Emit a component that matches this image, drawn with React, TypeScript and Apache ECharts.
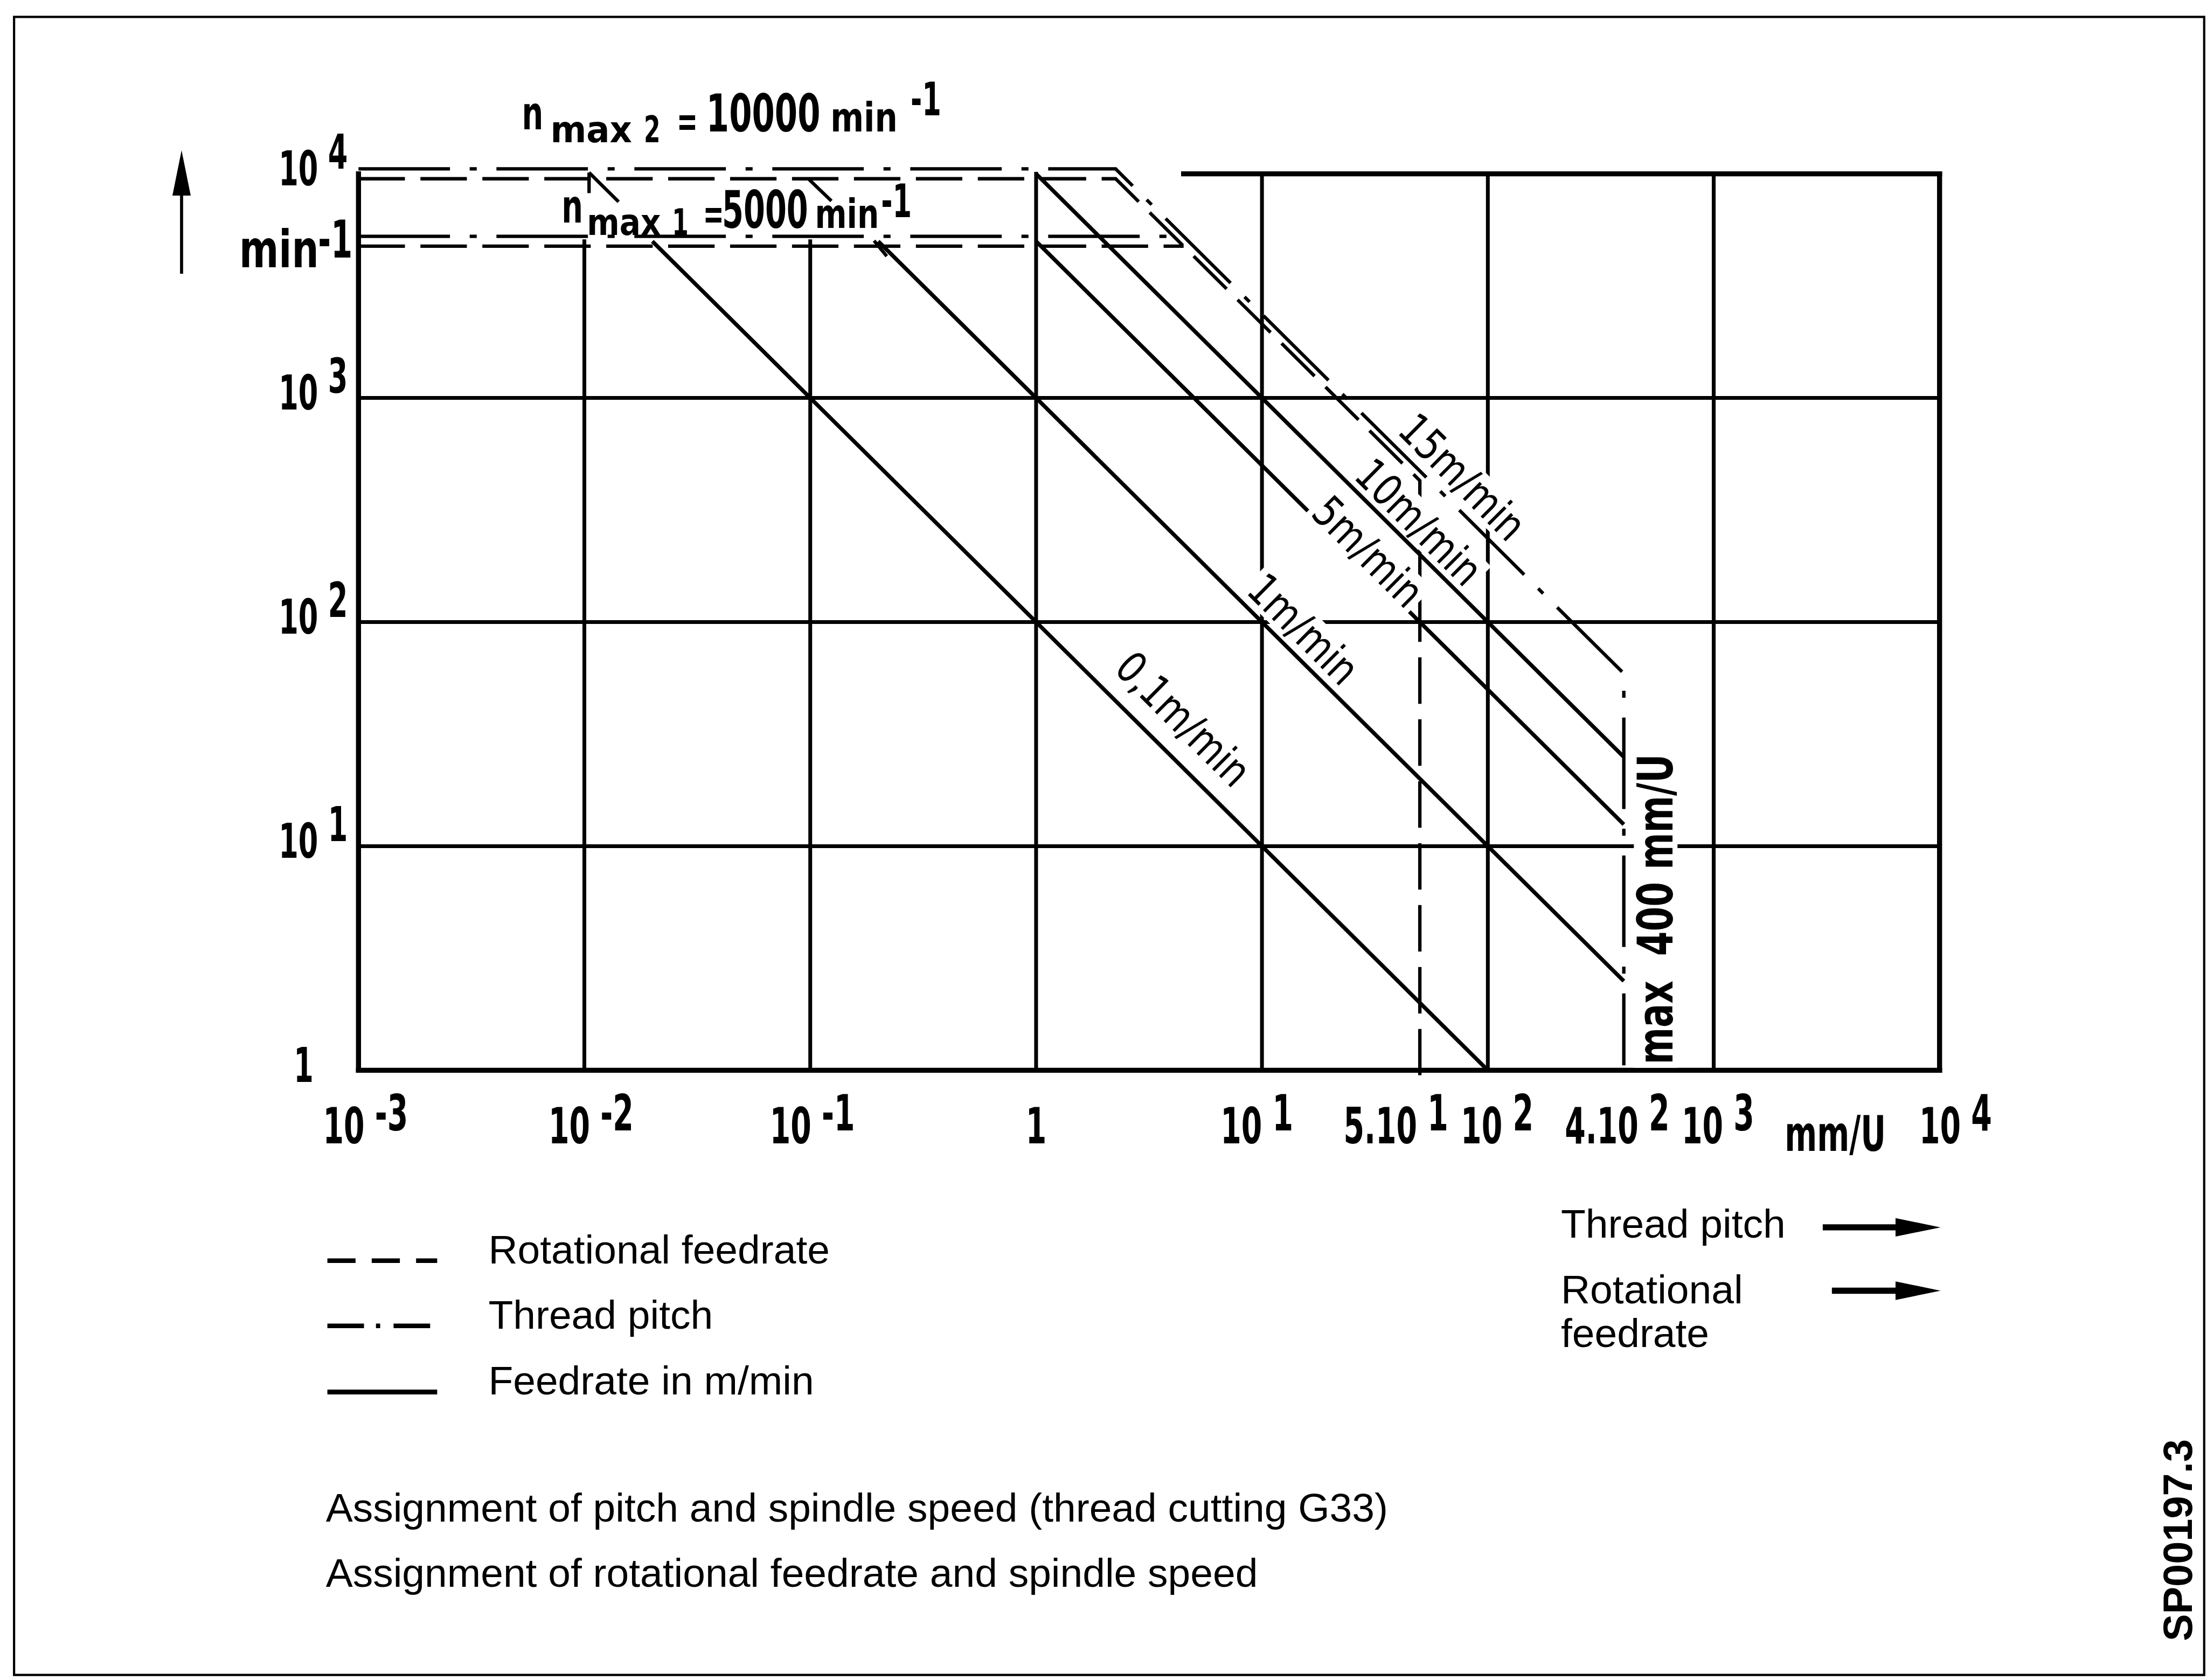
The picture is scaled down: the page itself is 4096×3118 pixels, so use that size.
import React, { useEffect, useRef } from "react";
import * as echarts from "echarts";

const PAGE_W = 4096;
const PAGE_H = 3118;
// The sheet is laid out in units of a 1568-unit-wide page; U converts to px.
const U = PAGE_W / 1568;
const u = (v: number) => v * U;

// Technical lettering: condensed bold face, narrowed further by a horizontal scale
const TECH = "'DejaVu Sans Condensed', 'DejaVu Sans', sans-serif";
const TECH_WEIGHT = "bold";
const TECH_SX = 0.66;
const SANS = "'Liberation Sans', Arial, Helvetica, sans-serif";
const INK = "#000";

// ---------------- data ----------------
// Pitch / rotational feed axis (mm/U)
const pitchTicks = [0.001, 0.01, 0.1, 1, 10, 50, 100, 400, 1000, 10000];
const pitchTickBase = ["10 ", "10 ", "10 ", "1", "10 ", "5.10 ", "10 ", "4.10 ", "10 ", "10 "];
const pitchTickExp = ["-3", "-2", "-1", "", "1", "1", "2", "2", "3", "4"];

// Spindle speed axis (min^-1)
const speedTicks = [1, 10, 100, 1000, 10000];
const speedTickBase = ["1", "10 ", "10 ", "10 ", "10 "];
const speedTickExp = ["", "1", "2", "3", "4"];

// Feedrate lines: [pitch mm/U, speed min^-1]
const feed01 = [[0.02, 5000], [100, 1]];
const feed1 = [[0.2, 5000], [400, 2.5]];
const feed5 = [[1, 5000], [400, 12.5]];
const feed10 = [[1, 10000], [400, 25]];
const feedLabels = ["0,1m/min", "1m/min", "5m/min", "10m/min", "15m/min"];

// Limits: thread pitch (dash-dot) and rotational feedrate (dashed)
const threadPitchMax2 = [[0.001, 10000], [2.25, 10000], [400, 56], [400, 1]];
const threadPitchMax1 = [[0.001, 5000], [4.5, 5000]];
const rotFeedMax2 = [[0.001, 10000], [2.25, 10000], [50, 450], [50, 1]];
const rotFeedMax1 = [[0.001, 5000], [4.5, 5000]];

// Diagram frame and grid segments: [x1, y1, x2, y2]
const frameSegments = [
  [0.001, 10000, 0.001, 1],
  [0.001, 1, 10000, 1],
  [10000, 10000, 10000, 1],
  [4.5, 10000, 10000, 10000],
];
const gridSegments = [
  [0.01, 5000, 0.01, 1],
  [0.1, 5000, 0.1, 1],
  [1, 10000, 1, 1],
  [10, 10000, 10, 1],
  [100, 10000, 100, 1],
  [1000, 10000, 1000, 1],
  [0.001, 1000, 10000, 1000],
  [0.001, 100, 10000, 100],
  [0.001, 10, 10000, 10],
];

// ---------------- layout (sheet units) ----------------
const pitchLabelNudge = [5, 4.7, 1.5, 0, -3.6, -17, 6.6, -4.7, 3, 11.4];
const PITCH_LABEL_SIZE = 35.7;
const PITCH_LABEL_DROP = 39.6;
const PITCH_EXP_RAISE = 9.2;
const SPEED_LABEL_SIZE = 33.9;
const SPEED_LABEL_LEFT = 56.7;
const SPEED_ONE_LEFT = 46;
const SPEED_EXP_RAISE = 12;
const NMAX1_LIFT = 3;

// ---------------- helpers ----------------
let measureCtx: CanvasRenderingContext2D | null = null;
function textWidth(s: string, size: number, family: string, weight = "normal") {
  if (!measureCtx) measureCtx = document.createElement("canvas").getContext("2d");
  if (!measureCtx) return s.length * size * 0.6;
  measureCtx.font = `${weight} ${size}px ${family}`;
  return measureCtx.measureText(s).width;
}

const centralY = (baseline: number, size: number) => baseline - 0.3465 * size;

// technical lettering piece, position in px, left-anchored
const techPx = (text: string, x: number, y: number, size: number, sx = TECH_SX) => ({
  type: "text",
  z: 60,
  silent: true,
  x,
  y,
  scaleX: sx,
  style: {
    text,
    x: 0,
    y: 0,
    fontSize: size,
    fontFamily: TECH,
    fontWeight: TECH_WEIGHT,
    fill: INK,
    align: "left",
    verticalAlign: "middle",
  },
});
// same, position in sheet units
const tech = (text: string, x: number, y: number, size: number, sx = TECH_SX) =>
  techPx(text, u(x), u(y), u(size), sx);

const txt = (text: string, x: number, y: number, size: number, family: string, extra: any = {}) => ({
  type: "text",
  z: 60,
  silent: true,
  style: {
    text,
    x: u(x),
    y: u(y),
    fontSize: u(size),
    fontFamily: family,
    fill: INK,
    align: "left",
    verticalAlign: "middle",
    ...extra,
  },
});

const rotText = (
  text: string,
  cx: number,
  cy: number,
  size: number,
  angle: number,
  family: string,
  opts: { weight?: string; boxed?: boolean; sx?: number } = {}
) => ({
  type: "text",
  z: 60,
  silent: true,
  x: u(cx),
  y: u(cy),
  rotation: angle,
  scaleX: opts.sx ?? 1,
  style: {
    text,
    x: 0,
    y: 0,
    fontSize: u(size),
    fontFamily: family,
    fontWeight: opts.weight ?? "normal",
    fill: INK,
    align: "center",
    verticalAlign: "middle",
    lineHeight: u(size * 0.8),
    ...(opts.boxed === false ? {} : { backgroundColor: "#fff", padding: [u(1.5), u(3)] }),
  },
});

const seg = (x1: number, y1: number, x2: number, y2: number, w: number, dash?: number[]) => ({
  type: "line",
  z: 60,
  silent: true,
  shape: { x1: u(x1), y1: u(y1), x2: u(x2), y2: u(y2) },
  style: { stroke: INK, lineWidth: u(w), lineDash: dash ? dash.map(u) : null, lineCap: "butt" },
});

const poly = (pts: number[][]) => ({
  type: "polygon",
  z: 60,
  silent: true,
  shape: { points: pts.map((p) => [u(p[0]), u(p[1])]) },
  style: { fill: INK },
});

// ---------------- series ----------------
const segmentSeries = (data: number[][], width: number) => ({
  type: "custom",
  coordinateSystem: "cartesian2d",
  silent: true,
  z: 2,
  data,
  encode: { x: [0, 2], y: [1, 3] },
  renderItem: (_p: any, api: any) => {
    const a = api.coord([api.value(0), api.value(1)]);
    const b = api.coord([api.value(2), api.value(3)]);
    return {
      type: "line",
      shape: { x1: a[0], y1: a[1], x2: b[0], y2: b[1] },
      style: { stroke: INK, lineWidth: u(width), lineCap: "square" },
    };
  },
});

// Limit line drawn with a small vertical shift so coinciding limits stay readable
const limitSeries = (name: string, pts: number[][], dash: number[], shift: number) => ({
  type: "custom",
  name,
  coordinateSystem: "cartesian2d",
  silent: true,
  z: 3,
  data: [[1, 1]],
  renderItem: (_p: any, api: any) => {
    const points = pts.map((p) => {
      const c = api.coord(p);
      return [c[0], c[1] + u(shift)];
    });
    return {
      type: "polyline",
      shape: { points },
      style: { stroke: INK, fill: null, lineWidth: u(2.4), lineDash: dash.map(u), lineJoin: "miter" },
    };
  },
});

const feedSeries = (name: string, data: number[][]) => ({
  type: "line",
  name,
  data,
  symbol: "none",
  silent: true,
  z: 4,
  lineStyle: { color: INK, width: u(2.8), cap: "butt" },
});

const DASHED = [33, 11];
const DASH_DOT = [65, 14, 5, 14];
const DIAG = -Math.atan2(159.5, 160.5);
const FEED_FONT = "'DejaVu Sans Condensed', 'DejaVu Sans', sans-serif";

function annotationElements(): any[] {
  const l = NMAX1_LIFT;
  return [
    // sheet border
    {
      type: "rect",
      z: 60,
      silent: true,
      shape: { x: u(10), y: u(12), width: u(1556), height: u(1178) },
      style: { fill: "none", stroke: INK, lineWidth: u(1.6) },
    },
    // speed axis arrow
    seg(129, 194.5, 129, 132, 2.2),
    poly([[129, 106.8], [122.5, 139], [135.5, 139]]),
    // speed unit
    tech("min", 170, centralY(190, 36.5), 36.5, 0.82),
    tech("-1", 226, centralY(183, 37), 37),

    // n max 2 = 10000 min-1
    tech("n", 370.8, centralY(91.7, 33), 33, 0.72),
    tech("max", 391, centralY(101, 26), 26, 1.05),
    tech("2", 457.5, centralY(101, 26), 26, 0.72),
    tech("=", 480.8, 86, 30),
    tech("10000", 501.8, centralY(93.4, 37), 37, 0.7),
    tech("min", 590, centralY(93.4, 28.7), 28.7, 0.88),
    tech("-1", 647, centralY(82, 33), 33),

    // n max 1 = 5000 min-1
    tech("n", 399, centralY(161 - l, 33), 33, 0.72),
    tech("max", 417, centralY(170 - l, 26), 26, 0.95),
    tech("1", 477.5, centralY(170 - l, 26), 26, 0.72),
    tech("=", 499.5, 155 - l, 30),
    tech("5000", 513, centralY(165 - l, 37), 37, 0.66),
    tech("min", 579, centralY(165 - l, 28.7), 28.7, 0.84),
    tech("-1", 626, centralY(157 - l, 33), 33),

    // leaders between the speed limits and their captions
    seg(439.5, 143.4, 418.5, 122.6, 2.4),
    seg(418.5, 122.6, 418.5, 137.2, 2.4),
    seg(574.3, 127, 590.7, 142.8, 2.4),
    seg(621, 171, 630, 182, 2.4),

    // feedrate captions along the lines
    rotText(feedLabels[0], 840.7, 511, 31, DIAG, FEED_FONT, { sx: 0.9 }),
    rotText(feedLabels[1], 926, 447, 31, DIAG, FEED_FONT, { sx: 0.9 }),
    rotText(feedLabels[2], 972, 392, 31, DIAG, FEED_FONT, { sx: 0.9 }),
    rotText(feedLabels[3], 1008, 371, 31, DIAG, FEED_FONT, { sx: 0.9 }),
    rotText(feedLabels[4], 1039, 339, 31, DIAG, FEED_FONT, { sx: 0.9 }),

    // maximum pitch caption
    rotText("max  400 mm/U", 1176.3, 646, 35, Math.PI / 2, FEED_FONT, { weight: "bold", sx: 0.8 }),

    // pitch axis unit
    tech("mm/U", 1268, 805.7, 35, 0.7),

    // legend (line styles)
    seg(232.6, 895.7, 310.6, 895.7, 3.3, [20, 11.5]),
    seg(232.6, 942, 312, 942, 3.3, [26, 8.5, 3, 9.5]),
    seg(232.6, 989, 310.6, 989, 3.5),
    txt("Rotational feedrate", 347, 887.8, 28.7, SANS),
    txt("Thread pitch", 347, 934, 28.7, SANS),
    txt("Feedrate in m/min", 347, 980.8, 28.7, SANS),

    // legend (axis directions)
    txt("Thread pitch", 1109, 869.5, 28.7, SANS),
    seg(1295, 872, 1348, 872, 4.4),
    poly([[1346.7, 865.4], [1378.7, 872], [1346.7, 878.6]]),
    txt("Rotational", 1109, 915.9, 28.7, SANS),
    txt("feedrate", 1109, centralY(957, 28.7), 28.7, SANS),
    seg(1301.5, 917, 1348, 917, 4.4),
    poly([[1346.7, 910.4], [1378.7, 917], [1346.7, 923.6]]),

    // captions
    txt("Assignment of pitch and spindle speed (thread cutting G33)", 231.5, 1071, 28.7, SANS),
    txt("Assignment of rotational feedrate and spindle speed", 231.5, 1117.4, 28.7, SANS),

    // drawing number
    rotText("SP00197.3", 1547, 1094.3, 29, Math.PI / 2, SANS, { weight: "bold", boxed: false }),
  ];
}

// Tick labels with raised exponents, placed through the axes' own scales
function tickLabelElements(chart: any): any[] {
  const els: any[] = [];
  const toX = (v: number) => chart.convertToPixel({ xAxisIndex: 0 }, v) as number;
  const toY = (v: number) => chart.convertToPixel({ yAxisIndex: 0 }, v) as number;
  const axisY = toY(1);
  const axisX = toX(0.001);

  const fx = u(PITCH_LABEL_SIZE);
  pitchTicks.forEach((v, i) => {
    const base = pitchTickBase[i];
    const exp = pitchTickExp[i];
    const wb = textWidth(base, fx, TECH, TECH_WEIGHT) * TECH_SX;
    const we = exp ? textWidth(exp, fx, TECH, TECH_WEIGHT) * TECH_SX : 0;
    const cx = toX(v) + u(pitchLabelNudge[i]);
    const left = cx - (wb + we) / 2;
    const cy = axisY + u(PITCH_LABEL_DROP);
    els.push(techPx(base, left, cy, fx));
    if (exp) els.push(techPx(exp, left + wb, cy - u(PITCH_EXP_RAISE), fx));
  });

  const fy = u(SPEED_LABEL_SIZE);
  speedTicks.forEach((v, i) => {
    const base = speedTickBase[i];
    const exp = speedTickExp[i];
    const left = axisX - u(exp ? SPEED_LABEL_LEFT : SPEED_ONE_LEFT);
    const cy = toY(v) - u(3.5);
    els.push(techPx(base, left, cy, fy));
    if (exp) {
      const wb = textWidth(base, fy, TECH, TECH_WEIGHT) * TECH_SX;
      els.push(techPx(exp, left + wb, cy - u(SPEED_EXP_RAISE), fy));
    }
  });
  return els;
}

function baseOption() {
  return {
    animation: false,
    backgroundColor: "#fff",
    grid: {
      left: u(254.7),
      right: PAGE_W - u(1378),
      top: u(123.5),
      bottom: PAGE_H - u(760.4),
      containLabel: false,
    },
    xAxis: {
      type: "log",
      logBase: 10,
      min: 0.001,
      max: 10000,
      axisLine: { show: false },
      axisTick: { show: false },
      splitLine: { show: false },
      axisLabel: { show: false },
    },
    yAxis: {
      type: "log",
      logBase: 10,
      min: 1,
      max: 10000,
      axisLine: { show: false },
      axisTick: { show: false },
      splitLine: { show: false },
      axisLabel: { show: false },
    },
    series: [
      segmentSeries(gridSegments, 2.7),
      segmentSeries(frameSegments, 3.6),
      limitSeries("Thread pitch n max 2", threadPitchMax2, DASH_DOT, -3.5),
      limitSeries("Thread pitch n max 1", threadPitchMax1, DASH_DOT, -3.5),
      limitSeries("Rotational feedrate n max 2", rotFeedMax2, DASHED, 3.5),
      limitSeries("Rotational feedrate n max 1", rotFeedMax1, DASHED, 3.5),
      feedSeries("0,1 m/min", feed01),
      feedSeries("1 m/min", feed1),
      feedSeries("5 m/min", feed5),
      feedSeries("10 m/min", feed10),
    ],
  };
}

export default function App() {
  const ref = useRef<HTMLDivElement>(null);
  useEffect(() => {
    if (!ref.current) return;
    const chart = echarts.init(ref.current, undefined, {
      renderer: "svg",
      width: PAGE_W,
      height: PAGE_H,
    });
    chart.setOption(baseOption() as any);
    chart.setOption({
      graphic: { elements: [...annotationElements(), ...tickLabelElements(chart)] },
    } as any);
    return () => chart.dispose();
  }, []);
  return (
    <div
      ref={ref}
      style={{ position: "fixed", left: 0, top: 0, width: PAGE_W, height: PAGE_H, background: "#fff" }}
    />
  );
}
